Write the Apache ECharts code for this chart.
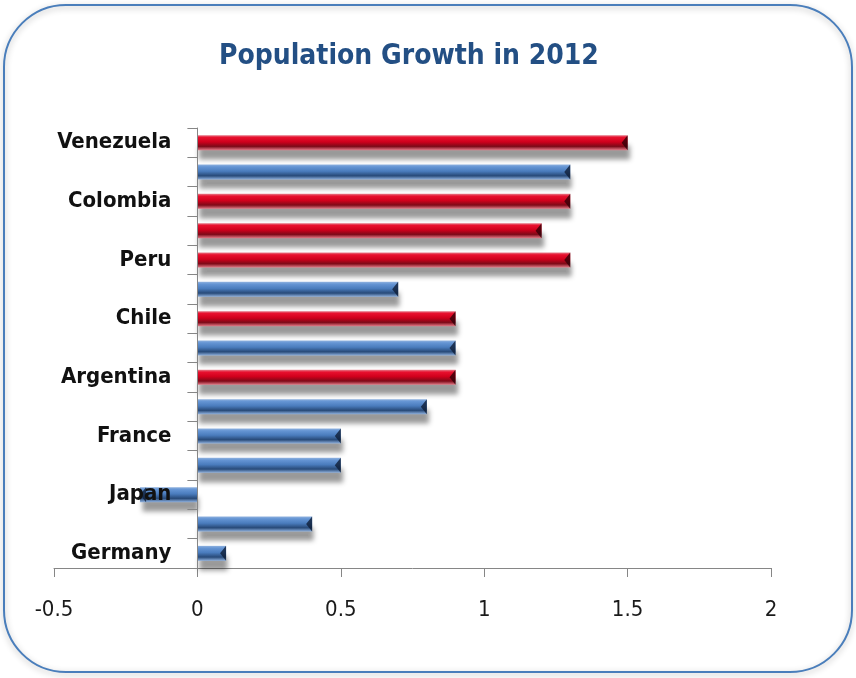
<!DOCTYPE html>
<html><head><meta charset="utf-8">
<script src="https://cdn.jsdelivr.net/npm/echarts@6/dist/echarts.min.js"></script>
<style>html,body{margin:0;padding:0;background:#fff}#chart{width:856px;height:678px}</style>
</head><body><div id="chart"></div>
<script>
// Population growth (%), top to bottom; every other row is labelled
const categories = ['Venezuela', '', 'Colombia', '', 'Peru', '', 'Chile', '', 'Argentina', '', 'France', '', 'Japan', '', 'Germany'];
const redValues  = [1.5, null, 1.3, 1.2, 1.3, null, 0.9, null, 0.9, null, null, null, null, null, null];
const blueValues = [null, 1.3, null, null, null, 0.7, null, 0.9, null, 0.8, 0.5, 0.5, -0.2, 0.4, 0.1];
const xTicks = [-0.5, 0, 0.5, 1, 1.5, 2];

const font = "'DejaVu Sans Condensed', 'DejaVu Sans', sans-serif";
const chart = echarts.init(document.getElementById('chart'), null, { renderer: 'canvas' });

const GRID_LEFT = 54, GRID_RIGHT = 85;
const PLOT_W = 856 - GRID_LEFT - GRID_RIGHT;
// the category labels sit beside the zero line, so shift them from the grid edge to it
const zeroOffset = PLOT_W * (0 - xTicks[0]) / (xTicks[xTicks.length - 1] - xTicks[0]);

// vertical gradient that gives each bar a rounded, tube-like look
function tube(edge, light, mid, dark) {
  return new echarts.graphic.LinearGradient(0, 0, 0, 1, [
    { offset: 0, color: edge },
    { offset: 0.15, color: light },
    { offset: 0.45, color: mid },
    { offset: 0.75, color: dark },
    { offset: 1, color: edge }
  ]);
}

const barShadow = { shadowColor: 'rgba(0,0,0,0.4)', shadowBlur: 5, shadowOffsetY: 10, shadowOffsetX: 2 };
const BAR_W = '51%';

// dark bevel at the tip of every bar
const capPath = 'path://M10,0 L10,10 L0,5 Z';
function capData(values) {
  return values.map(v => v == null ? null : { value: v, symbolRotate: v < 0 ? 180 : 0 });
}
function capSeries(values, color) {
  return {
    type: 'pictorialBar',
    data: capData(values),
    symbol: capPath,
    symbolPosition: 'end',
    symbolSize: [6, 15],
    barWidth: BAR_W,
    barGap: '-100%',
    silent: true,
    z: 3,
    itemStyle: { color: color }
  };
}

chart.setOption({
  animation: false,
  title: {
    text: 'Population Growth in 2012',
    left: 214,
    top: 38,
    textStyle: { fontFamily: font, fontSize: 28, fontWeight: 'bold', color: '#234f84' }
  },
  graphic: [{
    type: 'rect',
    z: -1,
    shape: { x: 4, y: 5, width: 848, height: 667, r: 62 },
    style: { fill: 'none', stroke: '#4a7ebb', lineWidth: 2, shadowBlur: 6, shadowColor: 'rgba(0,0,0,0.3)', shadowOffsetY: 2 }
  }],
  grid: { left: GRID_LEFT, right: GRID_RIGHT, top: 128, bottom: 110, containLabel: false, outerBoundsMode: 'none' },
  xAxis: {
    type: 'value',
    min: xTicks[0],
    max: xTicks[xTicks.length - 1],
    interval: xTicks[1] - xTicks[0],
    splitLine: { show: false },
    axisLine: { show: true, onZero: false, lineStyle: { color: '#868686', width: 1 } },
    axisTick: { show: true, length: 9, lineStyle: { color: '#868686' } },
    axisLabel: { margin: 31, fontFamily: font, fontSize: 22, color: '#1a1a1a' }
  },
  yAxis: {
    type: 'category',
    inverse: true,
    data: categories,
    z: 4,
    axisLine: { show: true, onZero: true, lineStyle: { color: '#868686', width: 1 } },
    axisTick: { show: true, interval: 0, length: 10, alignWithLabel: false, lineStyle: { color: '#868686' } },
    axisLabel: { interval: 0, margin: 26 - zeroOffset, fontFamily: font, fontSize: 22, fontWeight: 'bold', color: '#111' }
  },
  series: [
    {
      type: 'bar', name: 'red', data: redValues, barWidth: BAR_W, barGap: '-100%', z: 2,
      itemStyle: Object.assign({ color: tube('#e57a88', '#e8102e', '#d0001c', '#7d0a18') }, barShadow)
    },
    {
      type: 'bar', name: 'blue', data: blueValues, barWidth: BAR_W, barGap: '-100%', z: 2,
      itemStyle: Object.assign({ color: tube('#8fb1de', '#6595d4', '#4a7cbd', '#284a78') }, barShadow)
    },
    capSeries(redValues, 'rgba(50,0,8,0.8)'),
    capSeries(blueValues, 'rgba(15,30,55,0.8)')
  ]
});
</script>
</body></html>
